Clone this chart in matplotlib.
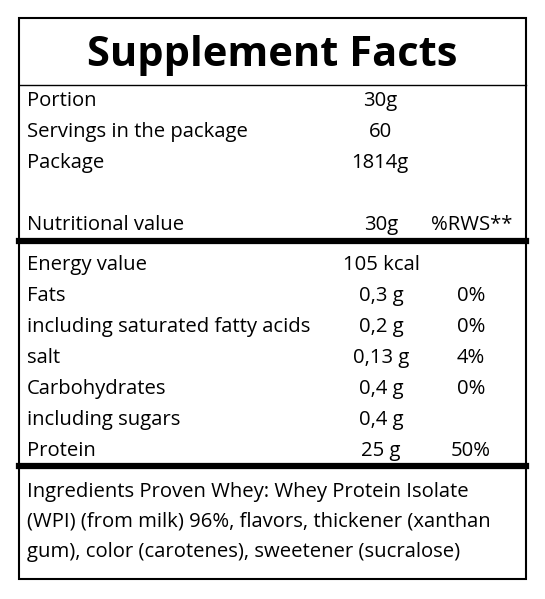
import matplotlib
matplotlib.use("Agg")
import matplotlib.pyplot as plt

title = "Supplement Facts"
info_labels = ["Portion", "Servings in the package", "Package"]
info_values = ["30g", "60", "1814g"]
header = ["Nutritional value", "30g", "%RWS**"]
nutrients = ["Energy value", "Fats", "including saturated fatty acids", "salt",
             "Carbohydrates", "including sugars", "Protein"]
amounts = ["105 kcal", "0,3 g", "0,2 g", "0,13 g", "0,4 g", "0,4 g", "25 g"]
percents = ["", "0%", "0%", "4%", "0%", "", "50%"]
ingredients = ["Ingredients Proven Whey: Whey Protein Isolate",
               "(WPI) (from milk) 96%, flavors, thickener (xanthan",
               "gum), color (carotenes), sweetener (sucralose)"]

W, H = 545, 599
fig = plt.figure(figsize=(W/100, H/100), dpi=100)
ax = fig.add_axes([0, 0, 1, 1])
ax.set_xlim(0, W); ax.set_ylim(H, 0); ax.axis("off")
FONT = "Open Sans"; FS = 14.6

ax.add_patch(plt.Rectangle((19, 18), 507, 561, fill=False, lw=1.5, ec="black"))
ax.text(272, 55, title, ha="center", va="center", fontsize=30, fontweight="bold", family=FONT)
ax.plot([19, 526], [85, 85], color="black", lw=1)

def t(x, y, s, ha="left"):
    ax.text(x, y, s, ha=ha, va="center", fontsize=FS, family=FONT)

for i, (l, v) in enumerate(zip(info_labels, info_values)):
    y = 101 + 31*i
    t(27, y, l); t(380, y, v, "center")
t(27, 225, header[0]); t(381, 225, header[1], "center"); t(472, 225, header[2], "center")
ax.plot([19, 526], [241, 241], color="black", lw=4.5)
for i, (n, a, p) in enumerate(zip(nutrients, amounts, percents)):
    y = 265 + 31*i
    t(27, y, n); t(381, y, a, "center"); t(471, y, p, "center")
ax.plot([19, 526], [466, 466], color="black", lw=4.5)
for i, s in enumerate(ingredients):
    t(27, 492 + 30*i, s)
fig.savefig("out.png", dpi=100)
